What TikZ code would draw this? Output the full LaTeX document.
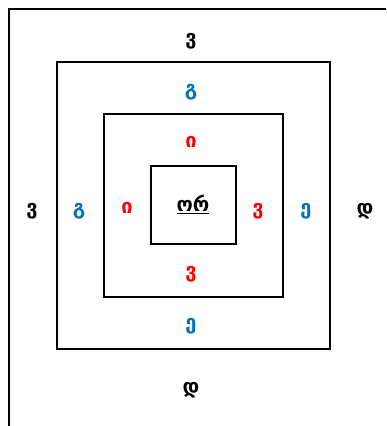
\documentclass[tikz,border=0pt]{standalone}
\usepackage{fontspec}
\newfontfamily\geofont{DejaVu Sans}
\usetikzlibrary{positioning}
\definecolor{ringblue}{HTML}{0070C0}
\definecolor{ringred}{HTML}{FF0000}
\tikzset{
  frame/.style={draw=black, line width=1.6pt},
  sq/.style={draw=black, line width=1.4pt},
  ltr/.style={font=\geofont\bfseries\fontsize{20}{21}\selectfont, inner sep=0pt},
  ltrblue/.style={ltr, text=ringblue},
  ltrred/.style={ltr, text=ringred}
}
\begin{document}
\begin{tikzpicture}[x=1pt,y=-1pt]
  \useasboundingbox (0,0) rectangle (386,426);
  % corner frame
  \coordinate (top) at (386,9);
  \coordinate (corner) at (9,9);
  \coordinate (bottom) at (9,426);
  \draw[frame] (top) -- (corner) -- (bottom);
  % nested squares
  \node[sq, minimum width=273pt, minimum height=287pt, inner sep=0pt] (outer) at (193.5,205.5) {};
  \node[sq, minimum width=179pt, minimum height=183pt, inner sep=0pt] (middle) at (193.5,205.5) {};
  \node[sq, minimum width=85pt, minimum height=78pt, inner sep=0pt] (inner) at (193.5,205) {};
  % centre word
  \node[ltr] (word) at (193,204) {\underline{ორ}};
  % outer ring
  \node[ltr] (outtop) at (191,41) {ვ};
  \node[ltr] (outleft) at (32,211) {ვ};
  \node[ltr] (outright) at (365,211) {დ};
  \node[ltr] (outbot) at (191,390) {დ};
  % middle ring
  \node[ltrblue] (midtop) at (191,92) {გ};
  \node[ltrblue] (midleft) at (79,211) {გ};
  \node[ltrblue] (midright) at (306,211) {ე};
  \node[ltrblue] (midbot) at (191,326) {ე};
  % inner ring
  \node[ltrred] (intop) at (191,142) {ი};
  \node[ltrred] (inleft) at (127,208) {ი};
  \node[ltrred] (inright) at (258,211) {ვ};
  \node[ltrred] (inbot) at (191,274) {ვ};
\end{tikzpicture}
\end{document}
